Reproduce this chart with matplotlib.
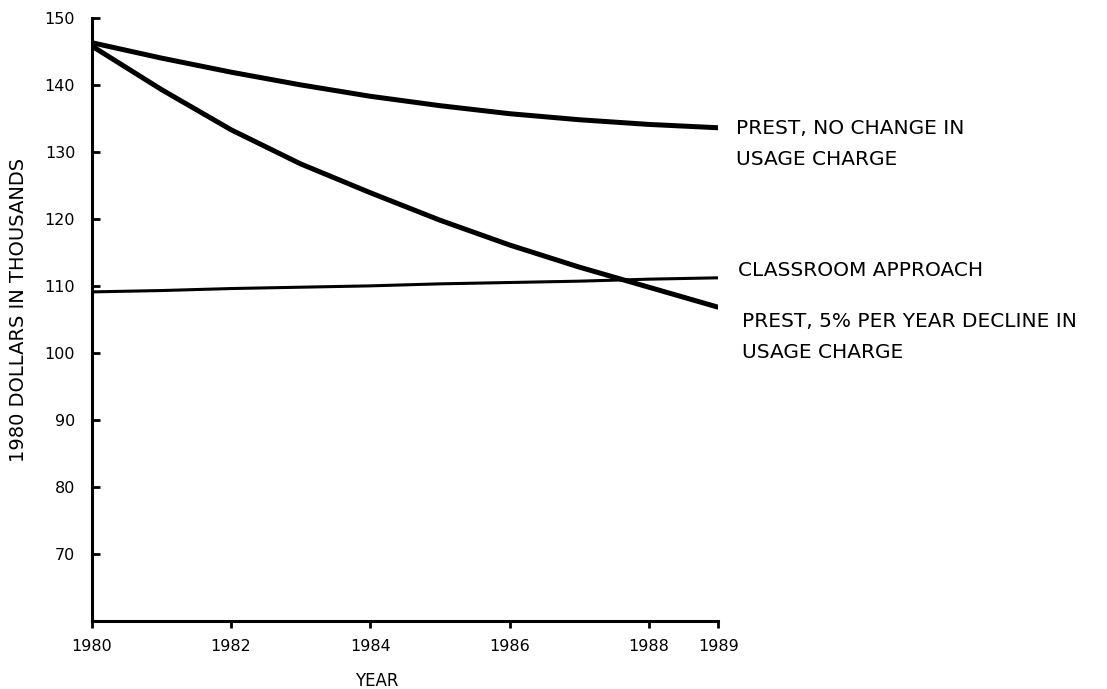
import matplotlib.pyplot as plt

# values (thousands of 1980 dollars)
years = [1980, 1981, 1982, 1983, 1984, 1985, 1986, 1987, 1988, 1989]
prest_flat = [146.3, 144.0, 141.9, 140.0, 138.3, 136.9, 135.7, 134.8, 134.1, 133.6]
prest_decline = [145.8, 139.3, 133.3, 128.2, 123.9, 119.8, 116.1, 112.8, 109.8, 106.8]
classroom = [109.1, 109.3, 109.6, 109.8, 110.0, 110.3, 110.5, 110.7, 111.0, 111.2]

xticks = [1980, 1982, 1984, 1986, 1988, 1989]
yticks = [70, 80, 90, 100, 110, 120, 130, 140, 150]

plt.rcParams['font.family'] = ['DejaVu Sans']

fig = plt.figure(figsize=(11.07, 6.89), dpi=100)
ax = fig.add_axes([0.083, 0.099, 0.566, 0.875])

ax.plot(years, prest_flat, color='black', lw=3.6, solid_capstyle='butt')
ax.plot(years, prest_decline, color='black', lw=3.6, solid_capstyle='butt')
ax.plot(years, classroom, color='black', lw=2.2, solid_capstyle='butt')

ax.set_xlim(1980, 1989)
ax.set_ylim(60, 150)

ax.spines['top'].set_visible(False)
ax.spines['right'].set_visible(False)
ax.spines['left'].set_linewidth(2.2)
ax.spines['bottom'].set_linewidth(2.2)

ax.set_xticks(xticks)
ax.set_xticklabels([str(y) for y in xticks])
ax.set_yticks(yticks)
ax.tick_params(axis='x', direction='out', length=5, width=2, pad=8, labelsize=11.5)
ax.tick_params(axis='y', direction='in', length=6, width=2, pad=12, labelsize=11.5)

ax.set_xlabel('YEAR', fontsize=12)
ax.xaxis.set_label_coords(0.454, -0.085)
ax.set_ylabel('1980 DOLLARS IN THOUSANDS', fontsize=14)
ax.yaxis.set_label_coords(-0.102, 0.516)

# labels at the right ends of the lines
ax.annotate('PREST, NO CHANGE IN\nUSAGE CHARGE', xy=(1989, prest_flat[-1]),
            xytext=(12.5, -12), textcoords='offset points', fontsize=14.5,
            va='center', ha='left', linespacing=1.8, annotation_clip=False)
ax.annotate('CLASSROOM APPROACH', xy=(1989, classroom[-1]),
            xytext=(14, 5), textcoords='offset points', fontsize=14.5,
            va='center', ha='left', annotation_clip=False)
ax.annotate('PREST, 5% PER YEAR DECLINE IN\nUSAGE CHARGE', xy=(1989, prest_decline[-1]),
            xytext=(17, -21.5), textcoords='offset points', fontsize=14.5,
            va='center', ha='left', linespacing=1.8, annotation_clip=False)

fig.savefig('out.png', dpi=100)
